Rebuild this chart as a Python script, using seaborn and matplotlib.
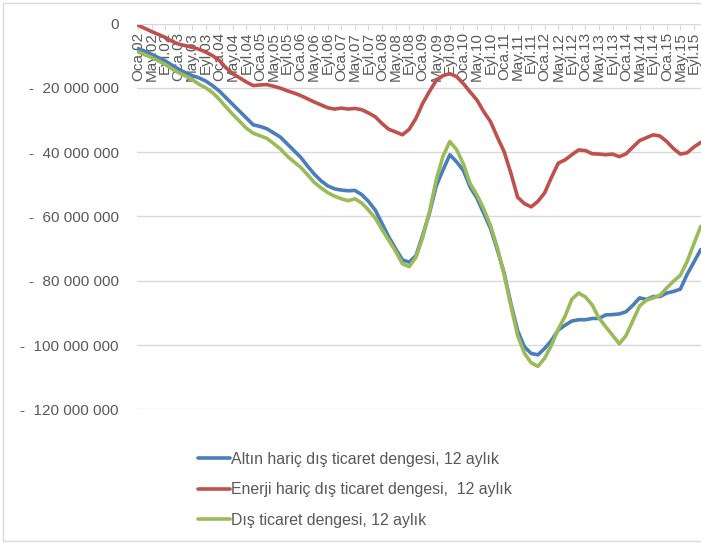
import pandas as pd
import seaborn as sns
import matplotlib.pyplot as plt
from matplotlib.patches import Rectangle
from matplotlib.ticker import FuncFormatter

# months since Oca.02, read every 2 months
months = list(range(0, 167, 2))

# values in million (12 month rolling balance)
altin_haric = [-7.8, -8.6, -9.6, -10.6, -11.6, -12.9, -14.2, -15.3, -16.2, -16.9,
               -17.9, -19.3, -21.0, -23.1, -25.2, -27.3, -29.4, -31.5, -32.0, -32.7,
               -34.0, -35.3, -37.4, -39.5, -41.6, -44.3, -46.8, -48.9, -50.5, -51.4,
               -51.8, -52.0, -51.9, -53.2, -55.3, -58.0, -62.2, -66.4, -70.0, -73.5,
               -74.2, -72.2, -65.8, -58.9, -50.5, -45.5, -40.8, -43.0, -45.7, -50.9,
               -54.3, -59.0, -63.7, -70.3, -77.5, -87.0, -95.5, -100.5, -102.6, -103.0,
               -101.0, -98.5, -95.3, -93.8, -92.5, -92.1, -92.1, -91.7, -91.7, -90.6,
               -90.5, -90.3, -89.6, -87.6, -85.3, -85.8, -84.9, -84.9, -83.8, -83.3,
               -82.6, -78.0, -74.2, -70.3]
enerji_haric = [-0.5, -1.5, -2.5, -3.4, -4.3, -5.5, -6.4, -6.9, -7.4, -8.0,
                -8.9, -10.0, -11.5, -13.8, -15.6, -16.9, -18.2, -19.3, -19.1, -19.0,
                -19.5, -20.1, -20.9, -21.6, -22.4, -23.4, -24.4, -25.3, -26.2, -26.6,
                -26.3, -26.6, -26.4, -26.8, -27.8, -29.0, -31.1, -32.9, -33.7, -34.6,
                -32.9, -29.5, -24.8, -21.1, -17.7, -16.2, -15.6, -16.5, -18.7, -21.3,
                -23.8, -27.4, -30.5, -35.3, -39.8, -46.5, -54.0, -56.0, -57.0, -55.3,
                -52.6, -47.8, -43.4, -42.4, -40.8, -39.3, -39.5, -40.5, -40.6, -40.8,
                -40.6, -41.4, -40.5, -38.4, -36.4, -35.5, -34.6, -35.0, -36.7, -38.9,
                -40.6, -40.2, -38.4, -37.0]
dis_ticaret = [-8.8, -9.7, -10.6, -11.6, -12.7, -14.1, -15.3, -16.3, -17.4, -18.9,
               -20.0, -21.5, -23.6, -26.0, -28.3, -30.4, -32.6, -34.1, -34.9, -35.7,
               -37.3, -39.0, -41.2, -43.0, -44.7, -47.0, -49.4, -51.1, -52.6, -53.7,
               -54.5, -55.1, -54.5, -55.8, -58.0, -60.5, -64.1, -67.4, -70.8, -74.7,
               -75.6, -72.7, -66.5, -58.5, -48.5, -41.2, -36.7, -39.2, -43.7, -49.8,
               -53.3, -57.6, -62.8, -69.6, -78.0, -87.7, -97.0, -102.5, -105.5, -106.6,
               -104.0, -100.0, -95.0, -91.0, -85.7, -83.8, -85.0, -87.5, -91.6, -94.3,
               -96.9, -99.6, -97.0, -92.4, -87.8, -86.0, -85.3, -84.5, -82.2, -80.1,
               -78.3, -74.0, -68.5, -63.1]

series_names = ['Altın hariç dış ticaret dengesi, 12 aylık',
                'Enerji hariç dış ticaret dengesi,  12 aylık',
                'Dış ticaret dengesi, 12 aylık']
colors = ['#4A7EBB', '#C0504D', '#9BBB59']

month_names = ['Oca', 'May', 'Eyl']
years = ['%02d' % y for y in range(2, 16)]
tick_labels = [m + '.' + y for y in years for m in month_names][:42]
tick_pos = list(range(0, 167, 4))[:42]

df = pd.DataFrame({
    'ay': months * 3,
    'deger': [v * 1e6 for v in altin_haric + enerji_haric + dis_ticaret],
    'seri': [series_names[0]] * len(months) + [series_names[1]] * len(months) + [series_names[2]] * len(months),
})

sns.set_style('white')
plt.rcParams['font.family'] = ['Liberation Sans', 'DejaVu Sans']
grey = '#595959'

fig = plt.figure(figsize=(7.01, 5.43), dpi=100)
ax = fig.add_axes([0.1954, 0.2459, 0.8046, 0.7108])

sns.lineplot(data=df, x='ay', y='deger', hue='seri', palette=dict(zip(series_names, colors)),
             linewidth=2.6, ax=ax, legend=False)

ax.set_ylim(-120e6, 0)
ax.set_xlim(-0.3, 166.1)
ax.set_yticks([-120e6, -100e6, -80e6, -60e6, -40e6, -20e6, 0])
ax.yaxis.set_major_formatter(FuncFormatter(
    lambda v, p: '0' if v == 0 else '-  ' + format(int(abs(v)), ',').replace(',', ' ')))
ax.grid(axis='y', color='#D9D9D9', linewidth=1)
ax.set_axisbelow(True)

ax.spines['bottom'].set_position(('data', 0))
ax.spines['bottom'].set_color('#D9D9D9')
for s in ['top', 'left', 'right']:
    ax.spines[s].set_visible(False)
ax.set_xticks(tick_pos)
ax.set_xticklabels(tick_labels)
ax.tick_params(axis='x', colors='#D9D9D9', labelcolor=grey, labelsize=11, length=4, pad=2,
               bottom=True, labelrotation=90)
ax.tick_params(axis='y', labelcolor=grey, labelsize=11, length=0, pad=13)
ax.set_xlabel('')
ax.set_ylabel('')

handles = ax.get_lines()[:3]
fig.legend(handles, series_names, loc='upper left', bbox_to_anchor=(0.271, 0.183),
           frameon=False, fontsize=11.4, labelcolor=grey, handlelength=2.0,
           handletextpad=0.1, labelspacing=0.98, borderpad=0)

fig.patches.append(Rectangle((0.004, 0.004), 1.2, 0.99, transform=fig.transFigure,
                             fill=False, edgecolor='#D9D9D9', linewidth=1))

fig.savefig('out.png', dpi=100)
